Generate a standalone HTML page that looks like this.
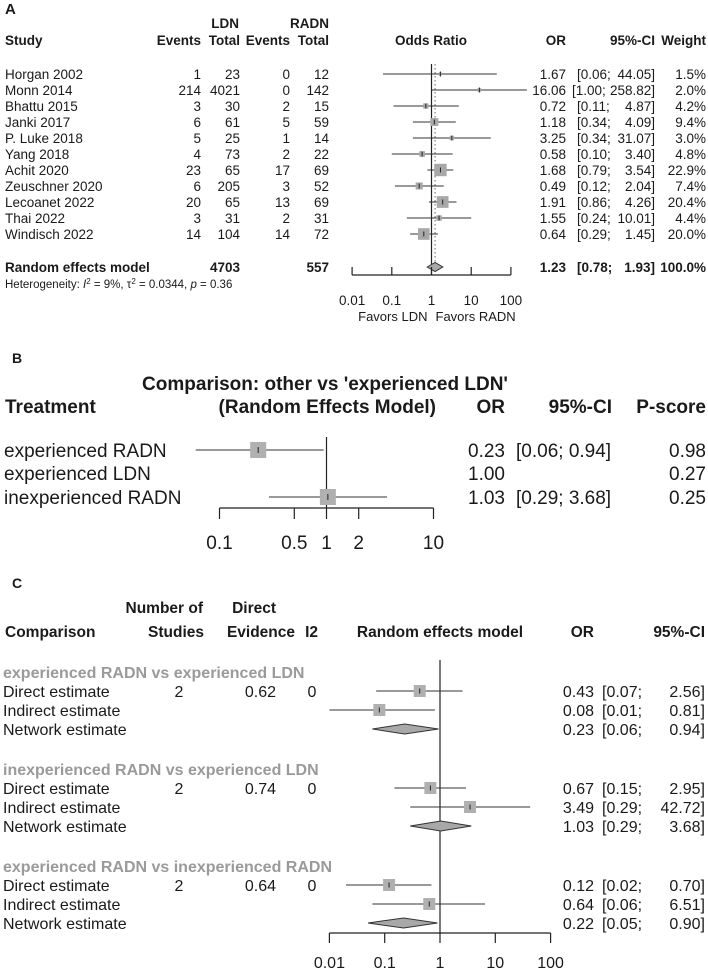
<!DOCTYPE html>
<html><head><meta charset="utf-8">
<style>
html,body{margin:0;padding:0;background:#fff;}
svg{display:block;font-family:"Liberation Sans Narrow","Liberation Sans",sans-serif;fill:#1a1a1a;}
.b{font-weight:bold;}
.g{fill:#9a9a9a;font-weight:bold;}
</style></head>
<body>
<svg id="chart" width="708" height="972" viewBox="0 0 708 972" xmlns="http://www.w3.org/2000/svg">
<g id="pA"></g>
<g id="pB"></g>
<g id="pC"></g>
</svg>
<script>
// ---------- Panel A data ----------
const studyNames = ["Horgan 2002","Monn 2014","Bhattu 2015","Janki 2017","P. Luke 2018","Yang 2018","Achit 2020","Zeuschner 2020","Lecoanet 2022","Thai 2022","Windisch 2022"];
const ldnEvents = [1,214,3,6,5,4,23,6,20,3,14];
const ldnTotal = [23,4021,30,61,25,73,65,205,65,31,104];
const radnEvents = [0,0,2,5,1,2,17,3,13,2,14];
const radnTotal = [12,142,15,59,14,22,69,52,69,31,72];
const studyOR = [1.67,16.06,0.72,1.18,3.25,0.58,1.68,0.49,1.91,1.55,0.64];
const studyLo = [0.06,1.00,0.11,0.34,0.34,0.10,0.79,0.12,0.86,0.24,0.29];
const studyHi = [44.05,258.82,4.87,4.09,31.07,3.40,3.54,2.04,4.26,10.01,1.45];
const studyWeight = [1.5,2.0,4.2,9.4,3.0,4.8,22.9,7.4,20.4,4.4,20.0];
const pooledA = [1.23,0.78,1.93];
const ticksA = [0.01,0.1,1,10,100];
const tickLabelsA = ["0.01","0.1","1","10","100"];

// ---------- Panel B data ----------
const treatments = ["experienced RADN","experienced LDN","inexperienced RADN"];
const treatOR = [0.23,1.00,1.03];
const treatLo = [0.06,null,0.29];
const treatHi = [0.94,null,3.68];
const pScores = ["0.98","0.27","0.25"];
const ticksB = [0.1,0.5,1,2,10];
const tickLabelsB = ["0.1","0.5","1","2","10"];

// ---------- Panel C data ----------
const groupTitles = ["experienced RADN vs experienced LDN","inexperienced RADN vs experienced LDN","experienced RADN vs inexperienced RADN"];
const groupStudies = ["2","2","2"];
const groupEvidence = ["0.62","0.74","0.64"];
const groupI2 = ["0","0","0"];
const estimateLabels = ["Direct estimate","Indirect estimate","Network estimate"];
const estOR = [[0.43,0.08,0.23],[0.67,3.49,1.03],[0.12,0.64,0.22]];
const estLo = [[0.07,0.01,0.06],[0.15,0.29,0.29],[0.02,0.06,0.05]];
const estHi = [[2.56,0.81,0.94],[2.95,42.72,3.68],[0.70,6.51,0.90]];
const ticksC = [0.01,0.1,1,10,100];
const tickLabelsC = ["0.01","0.1","1","10","100"];

const NS="http://www.w3.org/2000/svg";
function el(parent,tag,attrs,txt){const e=document.createElementNS(NS,tag);for(const k in attrs)e.setAttribute(k,attrs[k]);if(txt!==undefined)e.textContent=txt;parent.appendChild(e);return e;}
function T(p,x,y,s,size,anchor,cls,name){const e=el(p,"text",{x:x,y:y,"font-size":size,"text-anchor":anchor||"start"},s);if(cls)e.setAttribute("class",cls);


return e;}
function fmt(v){return v.toFixed(2);}
function logScale(x1,decade){return v=>x1+Math.log10(v)*decade;}

// ================= PANEL A =================
(function(){
const g=document.getElementById("pA");
const xs=logScale(431.5,39.7);
const fs=13.5;
T(g,5,14,"A",15,"start","b","panel-a-letter");
T(g,239,28,"LDN",13.5,"end","b","ldn-header");
T(g,329,28,"RADN",13.5,"end","b","radn-header");
T(g,5,45,"Study",13.5,"start","b","study-header");
T(g,201,45,"Events",13.5,"end","b","ldn-events-header");
T(g,240,45,"Total",13.5,"end","b","ldn-total-header");
T(g,290,45,"Events",13.5,"end","b","radn-events-header");
T(g,329,45,"Total",13.5,"end","b","radn-total-header");
T(g,431,45,"Odds Ratio",13.5,"middle","b","odds-ratio-header");
T(g,566,45,"OR",13.5,"end","b","or-header");
T(g,655,45,"95%-CI",13.5,"end","b","ci-header");
T(g,706,45,"Weight",13.5,"end","b","weight-header");
const y0=74,dy=16;
let l=el(g,"line",{x1:xs(1),x2:xs(1),y1:64,y2:275,stroke:"#222","stroke-width":1.2});

l=el(g,"line",{x1:xs(pooledA[0]),x2:xs(pooledA[0]),y1:64,y2:262,stroke:"#666","stroke-width":1,"stroke-dasharray":"1.5,2.5"});

const xmax=xs(100)+16;
studyNames.forEach((n,i)=>{
 const y=y0+i*dy, ty=y+5;
 T(g,5,ty,n,fs,"start",null,"study-name");
 T(g,201,ty,ldnEvents[i],fs,"end",null,"ldn-events");
 T(g,240,ty,ldnTotal[i],fs,"end",null,"ldn-total");
 T(g,290,ty,radnEvents[i],fs,"end",null,"radn-events");
 T(g,329,ty,radnTotal[i],fs,"end",null,"radn-total");
 const x1=xs(studyLo[i]),x2=Math.min(xs(studyHi[i]),xmax);
 const ci=el(g,"line",{x1:x1,x2:x2,y1:y,y2:y,stroke:"#333","stroke-width":1.1});
 
 
 const s=Math.max(3,Math.sqrt(studyWeight[i])*2.6);
 const sq=el(g,"rect",{x:xs(studyOR[i])-s/2,y:y-s/2,width:s,height:s,fill:"#a8a8a8"});
 
 
 el(g,"line",{x1:xs(studyOR[i]),x2:xs(studyOR[i]),y1:y-2.5,y2:y+2.5,stroke:"#222","stroke-width":1});
 T(g,566,ty,fmt(studyOR[i]),fs,"end",null,"study-or");
 T(g,studyHi[i]>=100?572:577,ty,"["+fmt(studyLo[i])+";",fs,"start",null,"study-ci-low");
 T(g,655,ty,fmt(studyHi[i])+"]",fs,"end",null,"study-ci-high");
 T(g,706,ty,studyWeight[i].toFixed(1)+"%",fs,"end",null,"study-weight");
});
const yr=267;
T(g,5,yr+5,"Random effects model",fs,"start","b","random-effects-label");
T(g,240,yr+5,"4703",fs,"end","b","ldn-total-sum");
T(g,329,yr+5,"557",fs,"end","b","radn-total-sum");
const d=el(g,"polygon",{points:`${xs(pooledA[1])},${yr} ${xs(pooledA[0])},${yr-4.5} ${xs(pooledA[2])},${yr} ${xs(pooledA[0])},${yr+4.5}`,fill:"#a8a8a8",stroke:"#333","stroke-width":1});

T(g,566,yr+5,fmt(pooledA[0]),fs,"end","b","pooled-or");
T(g,577,yr+5,"["+fmt(pooledA[1])+";",fs,"start","b","pooled-ci-low");
T(g,655,yr+5,fmt(pooledA[2])+"]",fs,"end","b","pooled-ci-high");
T(g,706,yr+5,"100.0%",fs,"end","b","pooled-weight");
const ht=T(g,5,288,"",11.5,"start",null,"heterogeneity-text");
ht.innerHTML='Heterogeneity: <tspan font-style="italic">I</tspan><tspan dy="-4" font-size="8">2</tspan><tspan dy="4"> = 9%, τ</tspan><tspan dy="-4" font-size="8">2</tspan><tspan dy="4"> = 0.0344, </tspan><tspan font-style="italic">p</tspan> = 0.36';
const ya=275;
l=el(g,"line",{x1:xs(ticksA[0]),x2:xs(ticksA[ticksA.length-1]),y1:ya,y2:ya,stroke:"#222","stroke-width":1.2});

ticksA.forEach((t,i)=>{el(g,"line",{x1:xs(t),x2:xs(t),y1:ya-8,y2:ya,stroke:"#222","stroke-width":1.2});
 T(g,xs(t),305,tickLabelsA[i],13.5,"middle",null,"x-tick-label-a");});
T(g,xs(1)-4,321,"Favors LDN",13,"end",null,"favors-ldn-label");
T(g,xs(1)+4,321,"Favors RADN",13,"start",null,"favors-radn-label");
})();

// ================= PANEL B =================
(function(){
const g=document.getElementById("pB");
const xs=logScale(326.5,107);
const fs=19;
T(g,12,363,"B",14,"start","b","panel-b-letter");
T(g,325,390,"Comparison: other vs 'experienced LDN'",19,"middle","b","panel-b-title");
T(g,5,413,"Treatment",19,"start","b","treatment-header");
T(g,436,413,"(Random Effects Model)",19,"end","b","model-header");
T(g,505,413,"OR",19,"end","b","or-header-b");
T(g,612,413,"95%-CI",19,"end","b","ci-header-b");
T(g,706,413,"P-score",19,"end","b","pscore-header");
let l=el(g,"line",{x1:xs(1),x2:xs(1),y1:437,y2:508,stroke:"#222","stroke-width":1.2});

const ys=[450,473,497];
treatments.forEach((n,i)=>{
 const y=ys[i],ty=y+7;
 T(g,4,ty,n,fs,"start",null,"treatment-name");
 if(treatLo[i]!==null){
  const ci=el(g,"line",{x1:xs(treatLo[i]),x2:xs(treatHi[i]),y1:y,y2:y,stroke:"#333","stroke-width":1.1});
  
  
  const s=16;
  const sq=el(g,"rect",{x:xs(treatOR[i])-s/2,y:y-s/2,width:s,height:s,fill:"#b0b0b0"});
  
  
  el(g,"line",{x1:xs(treatOR[i]),x2:xs(treatOR[i]),y1:y-3,y2:y+3,stroke:"#222","stroke-width":1});
  T(g,516,ty,"["+fmt(treatLo[i])+"; "+fmt(treatHi[i])+"]",fs,"start",null,"treatment-ci");
 }
 T(g,505,ty,fmt(treatOR[i]),fs,"end",null,"treatment-or");
 T(g,706,ty,pScores[i],fs,"end",null,"treatment-pscore");
});
const ya=508;
l=el(g,"line",{x1:xs(ticksB[0]),x2:xs(ticksB[ticksB.length-1]),y1:ya,y2:ya,stroke:"#222","stroke-width":1.2});

ticksB.forEach((t,i)=>{el(g,"line",{x1:xs(t),x2:xs(t),y1:ya,y2:ya+11,stroke:"#222","stroke-width":1.2});
 T(g,xs(t),549,tickLabelsB[i],19,"middle",null,"x-tick-label-b");});
})();

// ================= PANEL C =================
(function(){
const g=document.getElementById("pC");
const xs=logScale(440,55.3);
const fs=16;
T(g,12,588,"C",14,"start","b","panel-c-letter");
T(g,203,613,"Number of",15.5,"end","b","number-of-header");
T(g,276,613,"Direct",15.5,"end","b","direct-header");
T(g,5,637,"Comparison",15.5,"start","b","comparison-header");
T(g,204,637,"Studies",15.5,"end","b","studies-header");
T(g,295,637,"Evidence",15.5,"end","b","evidence-header");
T(g,318,637,"I2",15.5,"end","b","i2-header");
T(g,440,637,"Random effects model",15.5,"middle","b","re-model-header");
T(g,594,637,"OR",15.5,"end","b","or-header-c");
T(g,705,637,"95%-CI",15.5,"end","b","ci-header-c");
let l=el(g,"line",{x1:xs(1),x2:xs(1),y1:660,y2:933,stroke:"#222","stroke-width":1.2});

const gy=[672,769,866];
groupTitles.forEach((t,gi)=>{
 T(g,3,gy[gi]+6,t,16,"start","g","group-title");
 estimateLabels.forEach((lab,ei)=>{
  const y=gy[gi]+19+ei*19, ty=y+6;
  T(g,3,ty,lab,fs,"start",null,"estimate-label");
  if(ei===0){
   T(g,179,ty,groupStudies[gi],fs,"middle",null,"studies-count");
   T(g,276,ty,groupEvidence[gi],fs,"end",null,"direct-evidence");
   T(g,312,ty,groupI2[gi],fs,"middle",null,"i2-value");
  }
  const o=estOR[gi][ei],lo=estLo[gi][ei],hi=estHi[gi][ei];
  if(ei<2){
   const ci=el(g,"line",{x1:xs(lo),x2:xs(hi),y1:y,y2:y,stroke:"#333","stroke-width":1.1});
   
   
   const s=12;
   const sq=el(g,"rect",{x:xs(o)-s/2,y:y-s/2,width:s,height:s,fill:"#b0b0b0"});
   
   
   el(g,"line",{x1:xs(o),x2:xs(o),y1:y-2.5,y2:y+2.5,stroke:"#222","stroke-width":1});
  } else {
   const d=el(g,"polygon",{points:`${xs(lo)},${y} ${xs(o)},${y-5} ${xs(hi)},${y} ${xs(o)},${y+5}`,fill:"#a8a8a8",stroke:"#333","stroke-width":1});
   
   
  }
  T(g,594,ty,fmt(o),fs,"end",null,"estimate-or");
  T(g,602,ty,"["+fmt(lo)+";",fs,"start",null,"estimate-ci-low");
  T(g,705,ty,fmt(hi)+"]",fs,"end",null,"estimate-ci-high");
 });
});
const ya=933;
l=el(g,"line",{x1:xs(ticksC[0]),x2:xs(ticksC[ticksC.length-1]),y1:ya,y2:ya,stroke:"#222","stroke-width":1.2});

ticksC.forEach((t,i)=>{el(g,"line",{x1:xs(t),x2:xs(t),y1:ya,y2:ya+10,stroke:"#222","stroke-width":1.2});
 T(g,xs(t),968,tickLabelsC[i],16,"middle",null,"x-tick-label-c");});
})();
</script>
</body></html>
